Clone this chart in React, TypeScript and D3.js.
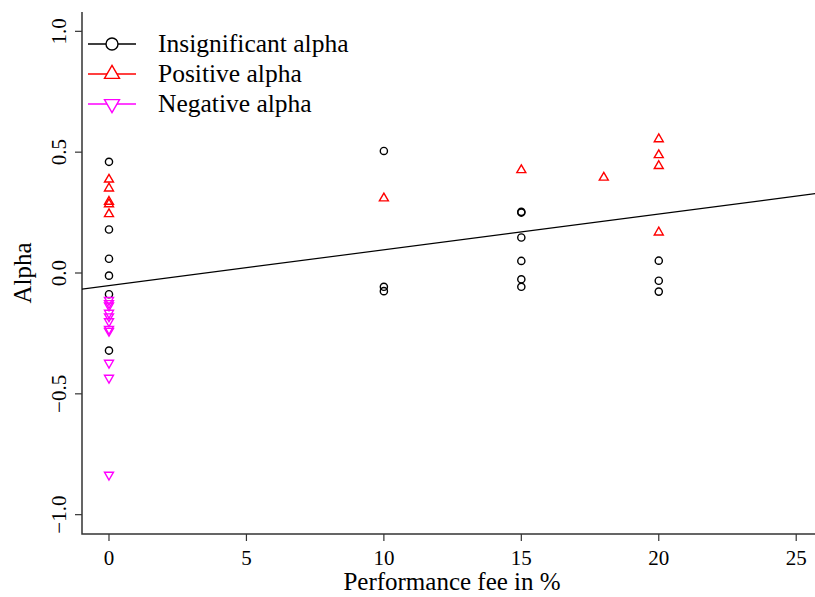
import React, { useEffect, useRef } from 'react';
import * as d3 from 'd3';

// fee (%) and alpha per fund, by group
const insignificant = [
  { fee: 0, alpha: 0.46 }, { fee: 0, alpha: 0.18 }, { fee: 0, alpha: 0.059 },
  { fee: 0, alpha: -0.011 }, { fee: 0, alpha: -0.088 }, { fee: 0, alpha: -0.321 },
  { fee: 10, alpha: 0.505 }, { fee: 10, alpha: -0.057 }, { fee: 10, alpha: -0.075 },
  { fee: 15, alpha: 0.253 }, { fee: 15, alpha: 0.25 }, { fee: 15, alpha: 0.147 },
  { fee: 15, alpha: 0.05 }, { fee: 15, alpha: -0.026 }, { fee: 15, alpha: -0.057 },
  { fee: 20, alpha: 0.051 }, { fee: 20, alpha: -0.032 }, { fee: 20, alpha: -0.077 },
];
const positive = [
  { fee: 0, alpha: 0.387 }, { fee: 0, alpha: 0.35 }, { fee: 0, alpha: 0.295 },
  { fee: 0, alpha: 0.285 }, { fee: 0, alpha: 0.244 },
  { fee: 10, alpha: 0.309 },
  { fee: 15, alpha: 0.426 },
  { fee: 18, alpha: 0.395 },
  { fee: 20, alpha: 0.554 }, { fee: 20, alpha: 0.488 }, { fee: 20, alpha: 0.443 },
  { fee: 20, alpha: 0.168 },
];
const negative = [
  { fee: 0, alpha: -0.112 }, { fee: 0, alpha: -0.125 }, { fee: 0, alpha: -0.135 },
  { fee: 0, alpha: -0.165 }, { fee: 0, alpha: -0.18 }, { fee: 0, alpha: -0.2 },
  { fee: 0, alpha: -0.232 }, { fee: 0, alpha: -0.24 }, { fee: 0, alpha: -0.372 },
  { fee: 0, alpha: -0.434 }, { fee: 0, alpha: -0.835 },
];
// fitted line alpha = a + b * fee
const fit = { intercept: -0.052, slope: 0.0148 };
const xTicks = [0, 5, 10, 15, 20, 25];
const yTicks = [-1.0, -0.5, 0.0, 0.5, 1.0];
const legendItems = [
  { label: 'Insignificant alpha', shape: 'circle', color: '#000000' },
  { label: 'Positive alpha', shape: 'up', color: '#ff0000' },
  { label: 'Negative alpha', shape: 'down', color: '#ff00ff' },
];

const tri = (cx: number, cy: number, s: number, up: boolean) => {
  const h = s * 0.866;
  const d = up ? 1 : -1;
  return `M${cx},${cy - d * h * 0.667}L${cx + s / 2},${cy + d * h * 0.333}L${cx - s / 2},${cy + d * h * 0.333}Z`;
};

const App = () => {
  const svgRef = useRef<SVGSVGElement>(null);

  useEffect(() => {
    const svg = d3.select(svgRef.current);
    svg.selectAll('*').remove();

    const W = 815, H = 597;
    const left = 82, top = 12, bottom = 534;
    const font = '"Liberation Serif", "Times New Roman", serif';

    const x = d3.scaleLinear().domain([-1, 26]).range([81.5, 823.7]);
    const y = d3.scaleLinear().domain([-1.08, 1.08]).range([bottom, top]);

    svg.attr('width', W).attr('height', H);

    svg.append('defs').append('clipPath').attr('id', 'plot')
      .append('rect').attr('x', left).attr('y', top).attr('width', W - left).attr('height', bottom - top);

    const axisColor = '#333';
    // box (L-shape)
    svg.append('path')
      .attr('d', `M${left},${top}V${bottom}H${W}`)
      .attr('fill', 'none').attr('stroke', axisColor).attr('stroke-width', 1.5);

    // y axis
    const ya = svg.append('g');
    yTicks.forEach(t => {
      ya.append('line').attr('x1', left).attr('x2', left - 7)
        .attr('y1', y(t)).attr('y2', y(t)).attr('stroke', axisColor).attr('stroke-width', 1.2);
      ya.append('text')
        .attr('transform', `translate(${66}, ${y(t)}) rotate(-90)`)
        .attr('text-anchor', 'middle').attr('font-family', font).attr('font-size', 21)
        .text(t.toFixed(1).replace('-', '\u2212'));
    });

    // x axis
    const xa = svg.append('g');
    xTicks.forEach(t => {
      xa.append('line').attr('x1', x(t)).attr('x2', x(t))
        .attr('y1', bottom).attr('y2', bottom + 7).attr('stroke', axisColor).attr('stroke-width', 1.2);
      xa.append('text')
        .attr('x', x(t)).attr('y', 565)
        .attr('text-anchor', 'middle').attr('font-family', font).attr('font-size', 21)
        .text(String(t));
    });

    svg.append('text')
      .attr('x', 452).attr('y', 590).attr('text-anchor', 'middle')
      .attr('font-family', font).attr('font-size', 25).text('Performance fee in %');
    svg.append('text')
      .attr('transform', `translate(31, ${y(0)}) rotate(-90)`).attr('text-anchor', 'middle')
      .attr('font-family', font).attr('font-size', 25).text('Alpha');

    const plot = svg.append('g').attr('clip-path', 'url(#plot)');

    // regression line
    plot.append('line')
      .attr('x1', x(-1)).attr('y1', y(fit.intercept + fit.slope * -1))
      .attr('x2', x(26)).attr('y2', y(fit.intercept + fit.slope * 26))
      .attr('stroke', '#000').attr('stroke-width', 1.2);

    plot.selectAll('circle.ins').data(insignificant).join('circle')
      .attr('cx', d => x(d.fee)).attr('cy', d => y(d.alpha)).attr('r', 3.6)
      .attr('fill', 'none').attr('stroke', '#000').attr('stroke-width', 1.4);

    plot.selectAll('path.pos').data(positive).join('path')
      .attr('d', d => tri(x(d.fee), y(d.alpha), 9, true))
      .attr('fill', 'none').attr('stroke', '#ff0000').attr('stroke-width', 1.4);

    plot.selectAll('path.neg').data(negative).join('path')
      .attr('d', d => tri(x(d.fee), y(d.alpha), 9, false))
      .attr('fill', 'none').attr('stroke', '#ff00ff').attr('stroke-width', 1.4);

    // legend
    const lg = svg.append('g');
    legendItems.forEach((it, i) => {
      const ly = 44 + i * 30;
      lg.append('line').attr('x1', 88).attr('x2', 136).attr('y1', ly).attr('y2', ly)
        .attr('stroke', it.color).attr('stroke-width', 1.3);
      if (it.shape === 'circle') {
        lg.append('circle').attr('cx', 112).attr('cy', ly).attr('r', 6)
          .attr('fill', 'white').attr('stroke', it.color).attr('stroke-width', 1.4);
      } else {
        lg.append('path').attr('d', tri(112, ly, 15, it.shape === 'up'))
          .attr('fill', 'white').attr('stroke', it.color).attr('stroke-width', 1.4);
      }
      lg.append('text').attr('x', 158).attr('y', ly + 8)
        .attr('font-family', font).attr('font-size', 25.5).text(it.label);
    });
  }, []);

  return <svg ref={svgRef} style={{ display: 'block', position: 'absolute', left: 0, top: 0 }}></svg>;
};

export default App;
